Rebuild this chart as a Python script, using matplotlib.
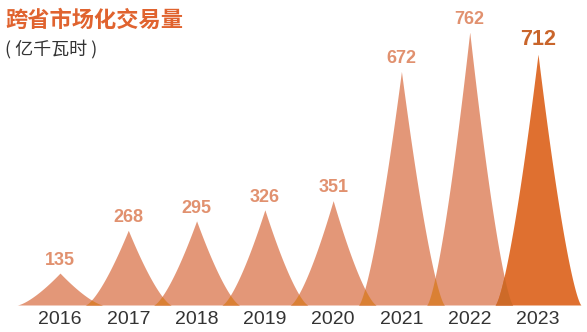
import numpy as np
import matplotlib
matplotlib.use("Agg")
import matplotlib.pyplot as plt

# data
years = ["2016", "2017", "2018", "2019", "2020", "2021", "2022", "2023"]
volumes = [135, 268, 295, 326, 351, 672, 762, 712]

title = "跨省市场化交易量"
unit = "( 亿千瓦时 )"

# the pictograph is not linear in height, a mild power scale fits it
POW = 1.24
SHAPE = 1.4      # concave sides of each spike
HALF = 0.63      # half base width in category units

light = "#E39778"
dark = "#DF7030"
overlap_light = "#DA8034"
overlap_dark = "#CD6A28"


def fwd(y):
    return np.sign(y) * np.abs(y) ** POW


def inv(y):
    return np.sign(y) * np.abs(y) ** (1 / POW)


def spike(xs, center, value):
    u = np.clip(np.abs(xs - center) / HALF, 0, 1)
    return value * (1 - u) ** (SHAPE / POW)


fig = plt.figure(figsize=(5.87, 3.32), dpi=100)
W, H = 587, 332
base_px = 305
top_px = 32
ax = fig.add_axes([0, (H - base_px) / H, 1, (base_px - top_px) / H])
ax.set_yscale("function", functions=(fwd, inv))

x0_px, step_px = 60, (538 - 60) / 7
ax.set_xlim(-x0_px / step_px, (W - x0_px) / step_px)
ax.set_ylim(0, max(volumes))
ax.axis("off")

xs = np.linspace(-1, len(years), 4000)
curves = [spike(xs, i, v) for i, v in enumerate(volumes)]
last = len(years) - 1

for i, (v, c) in enumerate(zip(volumes, curves)):
    ax.fill_between(xs, 0, c, where=c > 0, color=dark if i == last else light,
                    linewidth=0, zorder=2)

# darker bits where neighbours overlap
for i in range(len(curves) - 1):
    both = np.minimum(curves[i], curves[i + 1])
    ax.fill_between(xs, 0, both, where=both > 0,
                    color=overlap_dark if i + 1 == last else overlap_light,
                    linewidth=0, zorder=3)

for i, v in enumerate(volumes):
    big = i == last
    ax.annotate(str(v), (i, v), xytext=(0, 3), textcoords="offset points",
                ha="center", va="bottom", fontsize=15.5 if big else 13,
                fontweight="bold", color="#C9652B" if big else "#E1916F",
                family="Liberation Sans", annotation_clip=False)
    ax.annotate(years[i], (i, 0), xytext=(0, -4), textcoords="offset points",
                ha="center", va="top", fontsize=14, color="#333333",
                family="Liberation Sans", annotation_clip=False)

fig.text(5 / W, 1 - 20 / H, title, fontsize=16, fontweight="bold",
         color="#E0632F", family=["Noto Sans CJK SC", "DejaVu Sans"],
         ha="left", va="center")
fig.text(5 / W, 1 - 49 / H, unit, fontsize=13, color="#333333",
         family=["Noto Sans CJK SC", "DejaVu Sans"], ha="left", va="center")

fig.savefig("out.png", dpi=100)
